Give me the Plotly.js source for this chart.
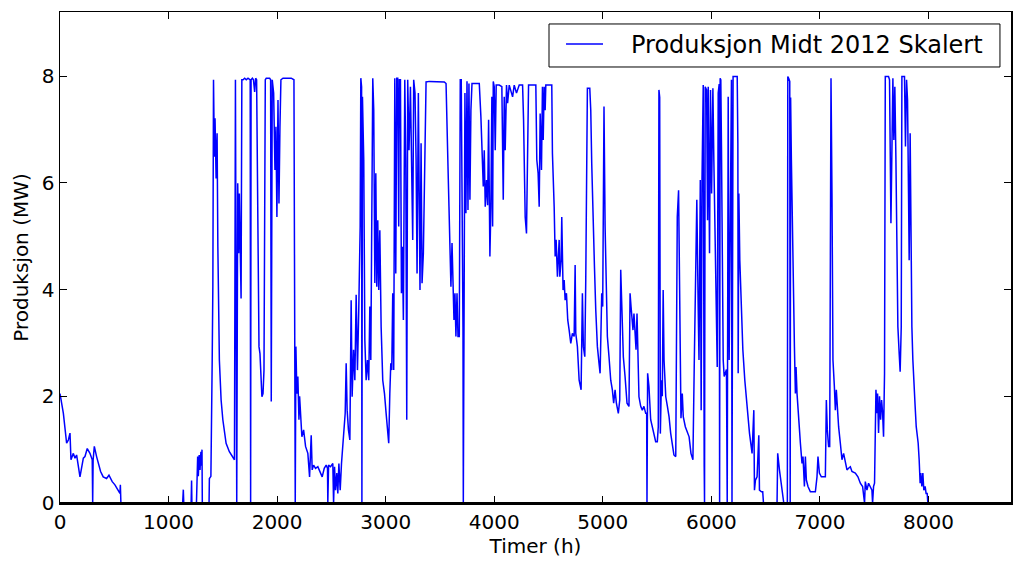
<!DOCTYPE html>
<html>
<head>
<meta charset="utf-8">
<script src="https://cdn.plot.ly/plotly-3.0.1.min.js"></script>
<style>html,body{margin:0;padding:0;background:#fff;}#chart{width:1024px;height:570px;}</style>
</head>
<body>
<div id="chart"></div>
<script>
// Hours (Timer) and scaled production (MW)
const timer = [
0,31,61,77,92,101,123,138,153,184,215,230,251,276,297,301,305,316,337,352,374,398,429,451,481,506,521,552,556,561,
1130,1136,1140,1208,1212,1215,1257,1262,1268,1274,1282,1290,1298,1303,1308,1311,1373,1376,1390,1402,1408,1414,1422,1428,1438,1447,1454,1468,1484,1500,1530,1560,1590,1607,1616,1622,1628,1637,1646,1652,1668,1675,1686,1701,1716,1732,1747,1752,1756,1760,1772,1782,1793,1802,1811,1818,1833,1842,1848,1860,1870,1879,1891,1900,1931,1940,1946,1955,1968,1980,1989,1998,2008,2017,2026,2035,2054,2084,2130,2155,2158,2161,2164,2167,2173,2182,2191,2201,2207,2213,2228,2244,2262,2283,
2299,2314,2323,2336,2354,2375,2397,2415,2434,2452,2464,2467,2474,2492,2513,2520,2529,2538,2550,2559,2569,2581,2593,2605,2615,2627,2636,2645,2657,2670,2682,2691,2704,2716,2728,2740,2752,2759,2765,2771,2778,2781,2786,2798,2808,2820,2832,2844,2854,2863,2872,2881,2890,2900,2909,2918,2927,2936,2946,2958,2973,2989,3004,3019,3028,3038,3047,3056,3065,3074,3084,3093,3102,3111,3120,3126,3136,3145,3154,3163,3176,3185,3194,3203,3215,3228,3240,3249,3258,3270,3280,3289,3301,3316,3326,3335,3347,3359,3372,3402,3448,3494,3540,3556,3565,3574,3583,3592,3601,3611,3620,3629,3638,3647,3657,3666,3678,3687,3696,3706,3712,3715,3721,3730,3739,3749,3758,3767,3776,3785,3795,3831,3862,3877,3887,3899,3908,3917,3929,3939,3948,3960,3969,3978,3985,3991,4000,4009,4018,4046,4070,4083,4092,4101,4113,4123,4138,4169,4184,4205,4230,4261,4270,4285,4297,4306,4316,4352,4383,4392,4404,4414,4423,4435,4444,4451,4460,4469,4475,4490,4530,
4536,4543,4552,4561,4570,4582,4592,4598,4604,4616,4622,4634,4644,4653,4665,4677,4690,4705,4720,4736,4745,4751,4766,4782,4800,4812,4821,4834,4843,4858,4880,4889,4898,4910,4923,4935,4950,4965,4975,4984,4990,4999,5011,5021,5030,5042,5057,5073,5088,5100,5113,5125,5143,5156,5165,5177,5189,5205,5223,5241,5251,5260,5269,5278,5287,5296,5306,5315,5324,5333,5349,5364,5379,5395,5404,5407,5413,5425,5441,5456,5471,5487,5502,5511,
5517,5524,5530,5540,5548,5556,5564,5580,5595,5610,5625,5640,5655,5672,5686,5698,5706,5720,5732,5741,5760,5780,5795,5812,5830,5842,5866,5878,5886,5898,5906,5914,5925,5934,5937,5943,5956,5965,5971,5983,5992,6002,6014,6023,6038,6048,6054,6063,6072,6076,6081,6087,6093,6100,6109,6118,6139,6146,6155,6164,6173,6179,6185,6190,6195,6200,6238,6244,6247,6253,6262,6274,6290,6308,6330,6351,6375,6391,6397,6406,6421,6437,6443,6461,6473,6480,
6605,6611,6627,6645,6657,6667,6700,6704,6712,6722,6726,6730,6737,6749,6765,6774,6780,6789,6805,6820,6835,6844,6857,6866,6875,6890,6912,6958,6973,6982,6995,7013,7050,7059,7068,7080,7090,7102,7111,7120,7133,7142,7151,7160,7172,7188,7203,7218,7234,7249,7264,7280,7295,7326,7350,7372,7393,7402,7411,7418,7433,7448,7464,7479,7485,7494,7503,7516,7525,7531,7540,7549,7559,7568,7577,7586,7595,7602,7632,7641,7654,7663,7672,7681,7690,7700,7709,7718,7730,7739,7749,7755,7779,7788,7798,7807,7816,7822,7831,7838,7847,7856,7868,7877,7887,7896,7905,7914,7923,7929,7939,7948,7957,7969,7978,7988,7994
];
const produksjon = [
2.05,1.68,1.12,1.18,1.31,0.81,0.93,0.84,0.9,0.49,0.84,0.87,1.02,0.93,0.81,0,0.8,1.06,0.87,0.74,0.59,0.49,0.46,0.52,0.4,0.34,0.28,0.18,0.34,0,
0,0.25,0,0,0.42,0,0,0.62,0.87,0.5,0.9,0.62,0.96,0.7,1.0,0,0,0.46,0.5,2.68,4.05,7.93,6.49,7.21,6.08,6.93,4.8,2.68,1.93,1.56,1.12,0.96,0.87,0.81,7.93,0.49,0,5.99,4.68,5.8,3.83,7.93,7.93,7.96,7.93,7.96,7.93,7.93,0,7.93,7.96,7.93,7.7,7.96,7.93,6.43,2.93,2.8,2.55,1.99,2.05,2.49,7.93,7.96,7.96,7.93,1.9,7.93,7.68,6.24,7.05,5.36,7.55,5.61,7.05,7.93,7.96,7.96,7.96,7.93,6.43,3.55,3.3,0,2.93,2.05,2.37,1.56,2.0,1.74,1.24,1.37,1.06,0.93,
0.49,1.27,0.62,0.71,0.65,0.68,0.59,0.49,0.65,0.71,0.65,0,0.71,0.68,0.74,0,0.68,0.24,0.56,0.18,0.74,0.24,0.74,1.12,1.31,1.68,2.62,1.74,1.37,1.18,3.8,1.99,2.87,2.3,3.9,2.49,3.62,4.55,5.18,7.96,7.8,0,7.61,6.43,3.05,2.3,2.68,2.3,3.68,2.68,6.55,7.96,7.36,4.12,6.18,4.05,5.3,3.99,5.11,3.3,2.3,2.05,1.68,1.31,1.12,2.05,2.62,2.49,3.93,2.49,7.96,4.3,7.96,7.96,5.18,7.93,7.93,3.93,4.8,3.43,7.93,6.43,1.56,7.93,6.61,7.8,6.43,4.93,7.93,7.68,6.43,4.3,7.68,3.99,6.74,4.12,4.68,6.43,7.89,7.9,7.9,7.89,7.89,7.86,6.74,6.3,5.55,4.68,4.05,4.87,3.93,3.43,3.93,3.12,3.93,3.12,3.12,7.93,7.93,5.8,3.3,0,3.3,7.68,5.43,7.9,5.49,7.86,5.68,7.36,7.86,7.86,7.86,7.24,6.43,5.93,6.61,5.55,6.05,5.58,7.18,4.62,5.55,7.61,5.18,7.9,7.8,6.61,7.83,7.83,7.8,5.68,7.61,6.61,7.83,7.49,7.83,7.61,7.83,7.68,7.83,7.83,7.18,5.36,5.05,7.05,7.83,7.83,7.83,6.43,6.18,5.55,7.3,6.24,7.8,6.8,7.8,7.36,7.83,7.83,7.83,
6.55,5.8,5.55,4.62,4.93,4.24,4.62,4.93,4.24,4.55,5.36,3.99,4.18,3.8,3.93,3.43,3.24,2.99,3.18,3.12,4.46,3.18,2.93,2.3,2.12,3.93,2.93,2.74,4.18,7.77,7.77,7.36,6.36,5.18,4.43,3.62,2.93,2.62,2.43,3.3,3.93,3.68,7.43,5.18,3.93,3.12,2.74,2.3,2.12,1.87,2.12,1.87,1.68,1.93,4.37,3.3,2.74,2.37,1.87,1.81,3.93,3.68,3.49,3.24,3.55,3.3,2.87,3.55,2.68,1.99,1.81,1.74,1.81,1.68,1.68,0,2.43,2.18,1.56,1.43,1.24,1.15,1.15,1.43,
7.74,7.6,1.3,2.3,2.0,3.99,2.68,1.99,1.81,1.62,1.31,1.06,0.9,0.87,5.36,5.86,3.93,1.59,2.05,1.62,1.43,1.31,1.24,0.93,0.81,2.55,5.68,3.74,2.68,6.05,1.74,6.08,7.83,0.68,0,7.8,7.74,5.3,7.8,4.68,7.74,5.8,7.77,6.4,4.0,2.8,2.55,7.68,7.85,0,7.96,7.93,6.68,4.05,2.68,2.37,2.5,0,7.61,2.68,5.86,7.8,7.93,0,7.9,7.99,7.99,6.74,2.43,5.8,4.55,3.62,2.87,2.3,1.74,1.31,0.93,1.74,0.24,0.43,0.49,1.27,0.24,0.21,0.21,0,
0,0.93,0.62,0.37,0.18,0,0,7.99,7.96,7.9,0,7.6,6.43,4.55,2.93,2.05,2.55,2.05,1.49,1.12,0.74,0.87,0.31,0.87,0.43,0.31,0.21,0.21,0.49,0.87,0.56,0.49,0.49,1.93,1.37,1.06,1.06,7.96,5.8,2.68,2.18,1.74,2.12,1.68,1.43,1.12,0.81,0.93,0.74,0.62,0.65,0.68,0.59,0.56,0.49,0.37,0.31,0.18,0,0.4,0.24,0.37,0.31,0.24,0,0.31,0.37,2.12,1.68,2.05,1.31,2.0,1.56,1.93,1.7,1.24,2.43,7.99,7.99,7.93,5.24,7.05,7.96,6.8,7.8,6.43,4.55,3.3,2.8,2.46,3.3,7.99,7.99,6.68,7.93,7.55,5.8,4.55,6.93,4.55,3.3,2.68,2.05,1.81,1.43,1.31,1.12,0.81,0.37,0.56,0.31,0.56,0.24,0.31,0.18,0.18,0
];
const seriesName = 'Produksjon Midt 2012 Skalert';
const xTicks = [0,1000,2000,3000,4000,5000,6000,7000,8000];
const yTicks = [0,2,4,6,8];

const font = 'DejaVu Sans, sans-serif';
const lineColor = '#0000ff';
const trace = {
  x: timer, y: produksjon, type: 'scatter', mode: 'lines', name: seriesName,
  line: {color: lineColor, width: 1.5}, showlegend: false
};
const axisCommon = {
  showline: true, linecolor: '#000', linewidth: 1.5, mirror: 'ticks',
  ticks: 'inside', ticklen: 7, tickwidth: 1, tickcolor: '#000',
  showgrid: false, zeroline: false, layer: 'above traces',
  tickfont: {family: font, size: 20, color: '#000'}
};
const layout = {
  width: 1024, height: 570,
  margin: {l: 60, r: 13, t: 12, b: 67},
  paper_bgcolor: '#fff', plot_bgcolor: '#fff',
  font: {family: font, color: '#000'},
  showlegend: false,
  xaxis: Object.assign({}, axisCommon, {
    range: [0, 8760], tickmode: 'array', tickvals: xTicks,
    title: {text: 'Timer (h)', font: {family: font, size: 20, color: '#000'}, standoff: 6}
  }),
  yaxis: Object.assign({}, axisCommon, {
    range: [0, 9.2], tickmode: 'array', tickvals: yTicks,
    title: {text: 'Produksjon (MW)', font: {family: font, size: 20, color: '#000'}, standoff: 8}
  }),
  shapes: [
    // bottom spine drawn over the data, as the axes frame in the reference hides values at zero
    {type: 'line', xref: 'paper', yref: 'paper', x0: 0, x1: 1, y0: 0, y1: 0,
     line: {color: '#000', width: 2}, layer: 'above'},
    // legend box drawn in the matplotlib style (upper right)
    {type: 'rect', xref: 'paper', yref: 'paper', x0: 0.5142, x1: 0.9884, y0: 0.888, y1: 0.9756,
     line: {color: '#000', width: 1}, fillcolor: '#fff', layer: 'above'},
    {type: 'line', xref: 'paper', yref: 'paper', x0: 0.5321, x1: 0.5710, y0: 0.9348, y1: 0.9348,
     line: {color: lineColor, width: 1.5}, layer: 'above'}
  ],
  annotations: [
    {xref: 'paper', yref: 'paper', x: 0.5983, y: 0.932, xanchor: 'left', yanchor: 'middle',
     text: seriesName, showarrow: false, font: {family: font, size: 24, color: '#000'}}
  ]
};
Plotly.newPlot('chart', [trace], layout, {displayModeBar: false, staticPlot: true});
</script>
</body>
</html>
